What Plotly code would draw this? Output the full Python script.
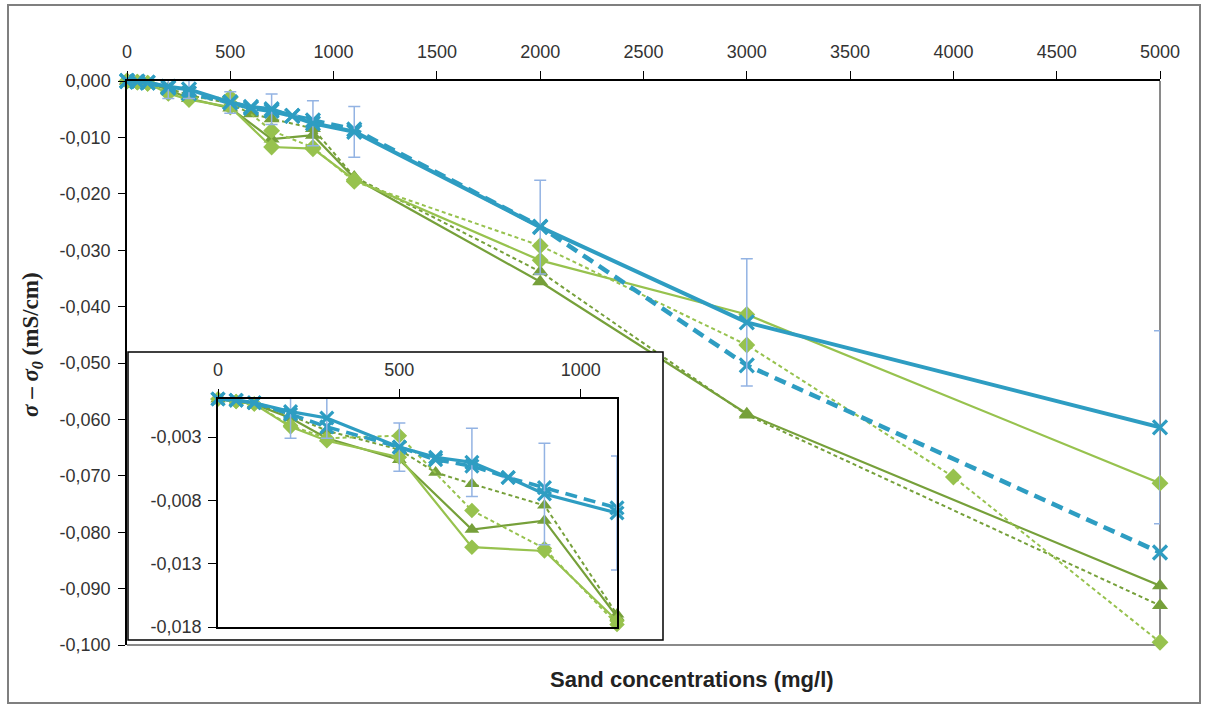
import plotly.graph_objects as go

# ---------------- data ----------------
conc_blue = [0, 50, 100, 200, 300, 500, 600, 700, 800, 900, 1100, 2000, 3000, 5000]
blue_solid = [0, -0.0001, -0.0003, -0.0010, -0.0015, -0.0038, -0.0046, -0.0050, -0.0062,
              -0.0075, -0.0090, -0.0259, -0.0428, -0.0614]
blue_solid_err = [0, 0, 0, 0.0021, 0.0016, 0.0019, 0, 0.0027, 0, 0.0040, 0.0045,
                  0.0083, 0.0113, 0.0171]
blue_dashed = [0, -0.0001, -0.0003, -0.0012, -0.0022, -0.0038, -0.0048, -0.0053, -0.0062,
               -0.0070, -0.0086, -0.0258, -0.0504, -0.0836]

conc_dia_solid = [0, 50, 100, 200, 300, 500, 700, 900, 1100, 2000, 3000, 5000]
dia_solid = [0, -0.0002, -0.0004, -0.0022, -0.0033, -0.0046, -0.0117, -0.0120, -0.0175,
             -0.0318, -0.0414, -0.0713]

conc_dia_dashed = [0, 50, 100, 200, 300, 500, 700, 900, 1100, 2000, 3000, 4000, 5000]
dia_dashed = [0, -0.0002, -0.0004, -0.0021, -0.0031, -0.0029, -0.0088, -0.0118, -0.0178,
              -0.0292, -0.0468, -0.0702, -0.0995]

conc_tri_solid = [0, 50, 100, 200, 300, 500, 700, 900, 1100, 2000, 3000, 5000]
tri_solid = [0, -0.0002, -0.0004, -0.0015, -0.0031, -0.0048, -0.0103, -0.0096, -0.0172,
             -0.0356, -0.0590, -0.0895]

conc_tri_dashed = [0, 50, 100, 200, 300, 500, 600, 700, 900, 1100, 2000, 3000, 5000]
tri_dashed = [0, -0.0002, -0.0004, -0.0013, -0.0025, -0.0040, -0.0058, -0.0067, -0.0084,
              -0.0170, -0.0338, -0.0592, -0.0930]

main_xticks = [0, 500, 1000, 1500, 2000, 2500, 3000, 3500, 4000, 4500, 5000]
main_yticks = [0, -0.01, -0.02, -0.03, -0.04, -0.05, -0.06, -0.07, -0.08, -0.09, -0.10]
main_yticktext = ["0,000", "-0,010", "-0,020", "-0,030", "-0,040", "-0,050",
                  "-0,060", "-0,070", "-0,080", "-0,090", "-0,100"]
inset_xticks = [0, 500, 1000]
inset_yticks = [-0.003, -0.008, -0.013, -0.018]
inset_yticktext = ["-0,003", "-0,008", "-0,013", "-0,018"]
INSET_XMAX = 1100

# ---------------- styles ----------------
BLUE = "#2e9dc2"
ERR = "#93b3e3"
G_DIA = "#97c24e"
G_TRI = "#76a03a"
FONT = "Liberation Sans, Arial, sans-serif"
TICKCOL = "#333333"

fig = go.Figure()


def clip(x, y, e=None):
    idx = [i for i, v in enumerate(x) if v <= INSET_XMAX]
    xs = [x[i] for i in idx]
    ys = [y[i] for i in idx]
    es = [e[i] for i in idx] if e is not None else None
    return xs, ys, es


def add_all(xa, ya, inset):
    s = 0.92 if inset else 1.0
    series = [
        (conc_tri_dashed, tri_dashed, None, G_TRI, 2, "4px,3px", "triangle-up", 14, 0),
        (conc_tri_solid, tri_solid, None, G_TRI, 2.2, "solid", "triangle-up", 14, 0),
        (conc_dia_dashed, dia_dashed, None, G_DIA, 2, "4px,3px", "diamond", 13, 0),
        (conc_dia_solid, dia_solid, None, G_DIA, 2.2, "solid", "diamond", 13, 0),
        (conc_blue, blue_dashed, None, BLUE, 4.5, "12px,7px", "x-thin", 14, 3.2),
        (conc_blue, blue_solid, blue_solid_err, BLUE, 4, "solid", "x-thin", 14, 3.2),
    ]
    for x, y, e, col, lw, dash, sym, ms, mlw in series:
        if inset:
            x, y, e = clip(x, y, e)
        tr = dict(
            x=x, y=y, xaxis=xa, yaxis=ya, mode="lines+markers",
            line=dict(color=col, width=lw * (0.8 if inset and lw > 3 else 1.0), dash=dash),
            marker=dict(symbol=sym, size=ms * s, color=col,
                        line=dict(color=col, width=mlw)),
            cliponaxis=False, showlegend=False, hoverinfo="x+y",
        )
        if e is not None:
            tr["error_y"] = dict(type="data", array=e, symmetric=True, visible=True,
                                 color=ERR, thickness=1.5, width=6)
        fig.add_trace(go.Scatter(**tr))


# main chart
add_all("x", "y", False)

# white box behind the inset (separate subplot drawn above the main traces)
fig.add_trace(go.Scatter(x=[0, 1, 1, 0, 0], y=[0, 0, 1, 1, 0], xaxis="x2", yaxis="y2",
                         mode="lines", fill="toself", fillcolor="white",
                         line=dict(color="white", width=0), showlegend=False,
                         hoverinfo="skip"))

# inset chart
add_all("x3", "y3", True)

# ---------------- layout ----------------
L, R, T, B = 127, 48, 81, 66
W, H = 1208, 711
PW, PH = W - L - R, H - T - B


def px_x(p):
    return (p - L) / PW


def px_y(p):
    return (H - B - p) / PH


tickfont = dict(family=FONT, size=18, color=TICKCOL)

fig.update_layout(
    width=W, height=H,
    margin=dict(l=L, r=R, t=T, b=B),
    plot_bgcolor="white", paper_bgcolor="white",
    showlegend=False,
    xaxis=dict(range=[0, 5000], side="top", tickvals=main_xticks, ticks="outside",
               ticklen=8, tickcolor="black", showline=True, linecolor="black",
               linewidth=1.5, showgrid=False, zeroline=False, tickfont=tickfont,
               ticklabelstandoff=6, anchor="y"),
    yaxis=dict(range=[-0.100, 0], tickvals=main_yticks, ticktext=main_yticktext,
               ticks="outside", ticklen=7, tickcolor="black", showline=True,
               linecolor="black", linewidth=1.5, showgrid=False, zeroline=False,
               tickfont=tickfont, ticklabelstandoff=4, anchor="x"),
    xaxis2=dict(domain=[px_x(128), px_x(663)], range=[0, 1], visible=False,
                anchor="y2", fixedrange=True),
    yaxis2=dict(domain=[px_y(640), px_y(352)], range=[0, 1], visible=False,
                anchor="x2", fixedrange=True),
    xaxis3=dict(domain=[px_x(218), px_x(617)], range=[0, INSET_XMAX], side="top",
                tickvals=inset_xticks, ticks="outside", ticklen=8, tickcolor="black",
                showline=True, mirror=True, linecolor="black", linewidth=1.5,
                showgrid=False, zeroline=False, tickfont=tickfont,
                ticklabelstandoff=6, anchor="y3"),
    yaxis3=dict(domain=[px_y(627), px_y(399)], range=[-0.018, 0],
                tickvals=inset_yticks, ticktext=inset_yticktext, ticks="outside",
                ticklen=8, tickcolor="black", showline=True, mirror=True,
                linecolor="black", linewidth=1.5, showgrid=False, zeroline=False,
                tickfont=tickfont, ticklabelstandoff=3, anchor="x3"),
)

shapes = [
    # outer frame of the picture
    dict(type="rect", xref="paper", yref="paper", x0=px_x(8), x1=px_x(1200),
         y0=px_y(703), y1=px_y(5), line=dict(color="#7f7f7f", width=2)),
    # right and bottom border of the main plot area
    dict(type="line", xref="paper", yref="paper", x0=1, x1=1, y0=0, y1=1,
         line=dict(color="#8a8a8a", width=2), layer="below"),
    dict(type="line", xref="paper", yref="paper", x0=0, x1=1, y0=0, y1=0,
         line=dict(color="#8a8a8a", width=2), layer="below"),
    # inset frame
    dict(type="rect", xref="paper", yref="paper", x0=px_x(128), x1=px_x(663),
         y0=px_y(640), y1=px_y(352), line=dict(color="black", width=1.5)),
]
fig.update_layout(shapes=shapes)

fig.add_annotation(
    text="<b><i>σ</i> – <i>σ<sub>0</sub></i> (mS/cm)</b>",
    xref="paper", yref="paper", x=px_x(32), y=px_y(345), textangle=-90,
    showarrow=False, font=dict(family="Liberation Serif, Times New Roman, serif",
                               size=23, color="#222222"),
    xanchor="center", yanchor="middle")
fig.add_annotation(
    text="<b>Sand concentrations (mg/l)</b>",
    xref="paper", yref="paper", x=px_x(692), y=px_y(679), showarrow=False,
    font=dict(family=FONT, size=22, color="#222222"),
    xanchor="center", yanchor="middle")

fig.write_html("out.html",
               config={"displayModeBar": False},
               post_script="document.body.style.margin='0';"
                           "document.body.style.overflow='hidden';")
